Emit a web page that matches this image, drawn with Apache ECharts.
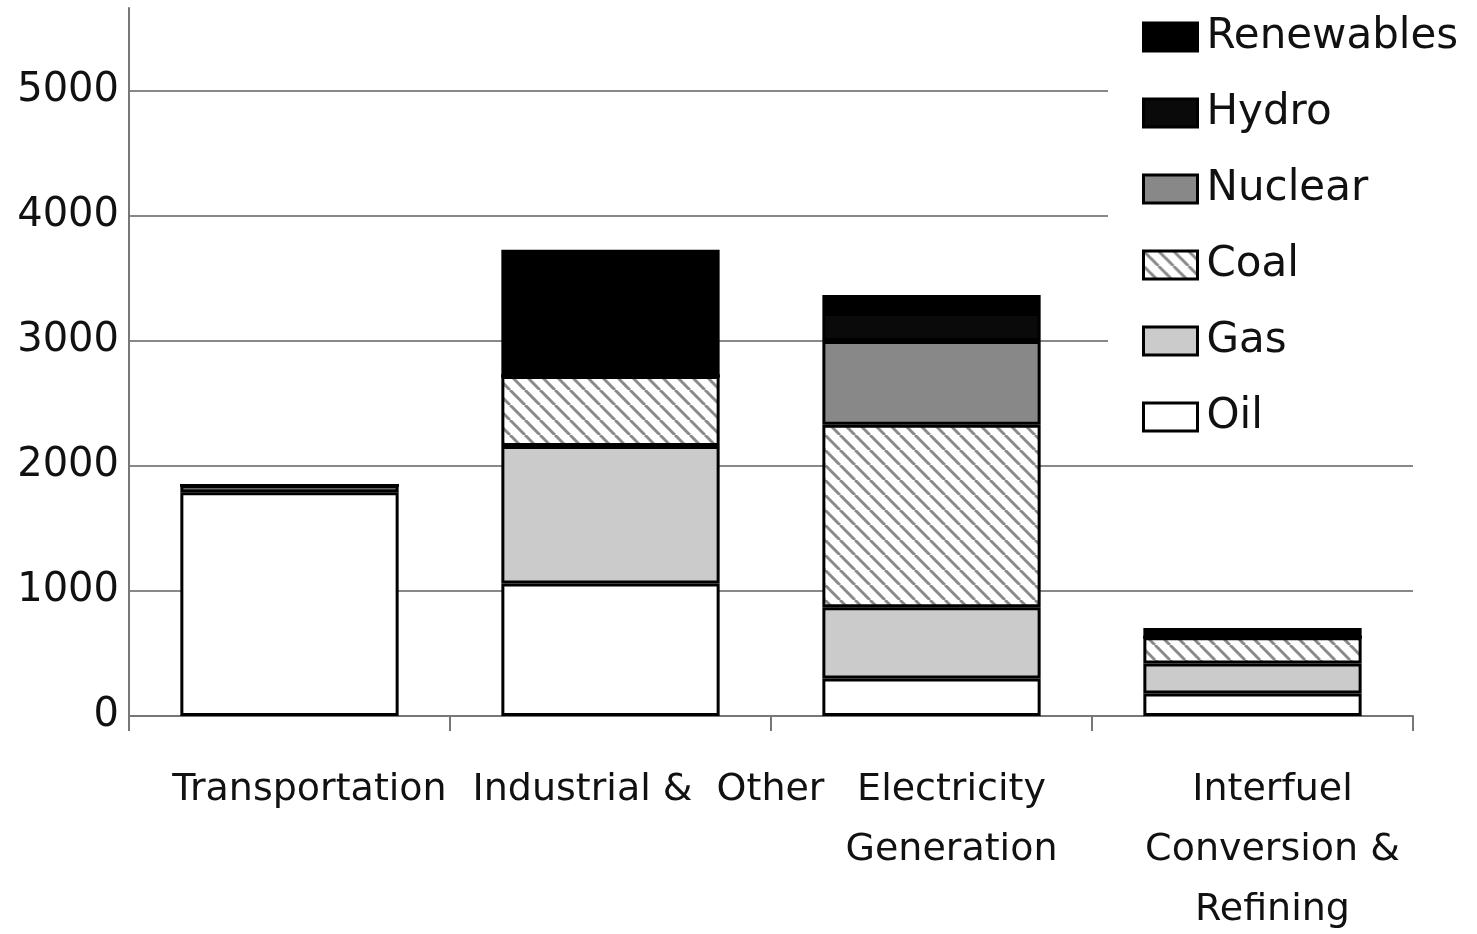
<!DOCTYPE html>
<html>
<head>
<meta charset="utf-8">
<script src="https://cdn.jsdelivr.net/npm/echarts@6/dist/echarts.min.js"></script>
<style>
  html, body { margin: 0; padding: 0; background: #fff; }
  #main { width: 1477px; height: 934px; }
</style>
</head>
<body>
<div id="main"></div>
<script>
// categories and stacked values
var categories = ['Transportation', 'Industrial &  Other', 'Electricity\nGeneration', 'Interfuel\nConversion &\nRefining']
var oil = [1790, 1060, 300, 180]
var gas = [55, 1100, 570, 240]
var coal = [0, 560, 1460, 210]
var nuclear = [0, 0, 670, 0]
var hydro = [0, 0, 224, 0]
var renewables = [0, 1010, 144, 75]
var yTicks = [0, 1000, 2000, 3000, 4000, 5000]

// diagonal hatch for coal
function hatch() {
  var s = 15
  var c = document.createElement('canvas')
  c.width = s
  c.height = s
  var ctx = c.getContext('2d')
  ctx.fillStyle = '#fff'
  ctx.fillRect(0, 0, s, s)
  ctx.strokeStyle = '#8a8a8a'
  ctx.lineWidth = 3
  ;[-s, 0, s].forEach(function (x0) {
    ctx.beginPath()
    ctx.moveTo(x0, 0)
    ctx.lineTo(x0 + s, s)
    ctx.stroke()
  })
  return c
}

var border = { borderColor: '#000', borderWidth: 3 }
function bar(name, data, color) {
  return {
    name: name,
    type: 'bar',
    stack: 'total',
    barWidth: '68%',
    data: data,
    itemStyle: Object.assign({ color: color }, border),
  }
}

var myChart = echarts.init(document.getElementById('main'))
myChart.setOption({
  animation: false,
  textStyle: { fontFamily: 'DejaVu Sans' },
  grid: { left: 129, right: 64, top: 8, bottom: 218, outerBoundsMode: 'none', containLabel: false },
  legend: {
    data: ['Renewables', 'Hydro', 'Nuclear', 'Coal', 'Gas', 'Oil'],
    orient: 'vertical',
    left: 1108,
    top: 0,
    padding: [16, 20, 8, 34],
    backgroundColor: '#fff',
    itemWidth: 54,
    itemHeight: 28,
    itemGap: 34,
    icon: 'rect',
    itemStyle: { borderColor: '#000', borderWidth: 3 },
    textStyle: { fontSize: 42, lineHeight: 42, color: '#111', padding: [0, 0, 0, 4] },
  },
  xAxis: {
    type: 'category',
    data: categories,
    axisLine: { lineStyle: { color: '#777', width: 2 } },
    axisTick: { show: true, length: 15, lineStyle: { color: '#777', width: 2 } },
    axisLabel: {
      interval: 0,
      margin: 44,
      fontSize: 38,
      lineHeight: 60,
      color: '#111',
      padding: [0, 0, 0, 40],
      formatter: function (v, i) { return i === 1 ? '{s|' + v + '}' : v },
      rich: { s: { fontSize: 38, lineHeight: 60, color: '#111', padding: [0, 0, 0, 36] } },
    },
  },
  yAxis: {
    type: 'value',
    min: 0,
    max: 5664,
    interval: 1000,
    axisLine: { show: true, lineStyle: { color: '#777', width: 2 } },
    axisTick: { show: false },
    axisLabel: {
      margin: 10,
      fontSize: 40,
      color: '#111',
      showMaxLabel: false,
      formatter: function (v) { return yTicks.indexOf(v) >= 0 ? String(v) : '' },
    },
    splitLine: { show: true, showMaxLine: false, lineStyle: { color: '#888', width: 2 } },
  },
  series: [
    bar('Oil', oil, '#ffffff'),
    bar('Gas', gas, '#cbcbcb'),
    bar('Coal', coal, { image: hatch(), repeat: 'repeat' }),
    bar('Nuclear', nuclear, '#888888'),
    bar('Hydro', hydro, '#0a0a0a'),
    bar('Renewables', renewables, '#000000'),
  ],
})
</script>
</body>
</html>
